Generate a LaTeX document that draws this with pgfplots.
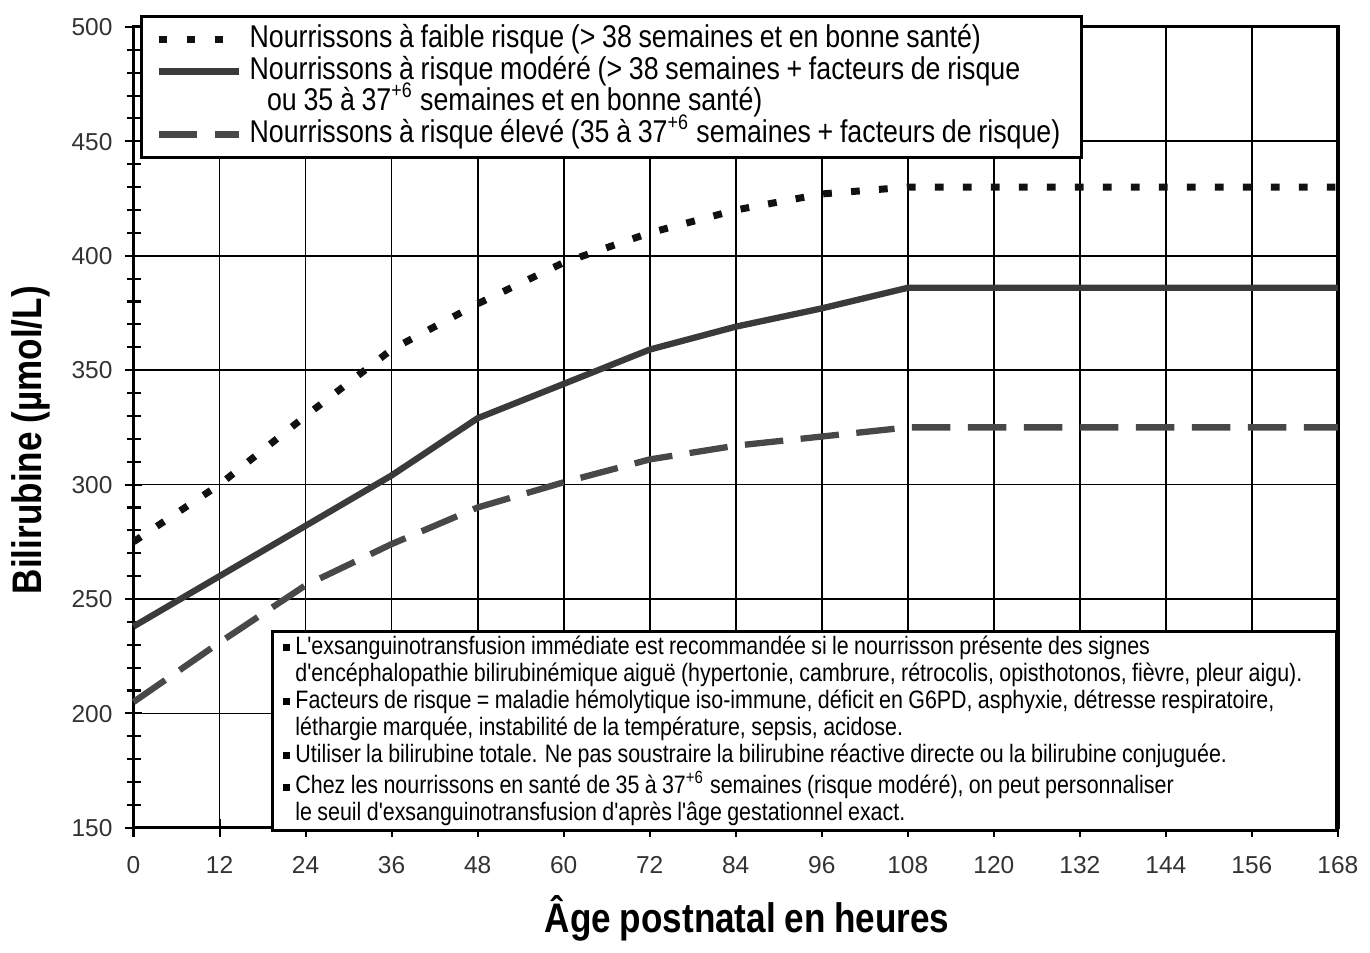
\documentclass[border=0pt]{standalone}
\usepackage{fontspec}
\setmainfont{Liberation Sans}
\newfontfamily\narrowfont[FakeStretch=0.85, WordSpace=0.9]{Liberation Sans}
\usepackage{pgfplots}
\pgfplotsset{compat=1.18}

\definecolor{lowc}{HTML}{111111}
\definecolor{modc}{HTML}{3A3A3A}
\definecolor{highc}{HTML}{484848}

\newcommand{\puce}{\raisebox{0.9pt}{\rule{2pt}{2pt}}\ }

\begin{document}
\begin{tikzpicture}
\begin{axis}[
  scale only axis, width=344.2pt, height=228.9pt,
  xmin=0, xmax=168, ymin=150, ymax=500,
  xtick={0,12,24,36,48,60,72,84,96,108,120,132,144,156,168},
  ytick={150,200,250,300,350,400,450,500},
  minor ytick={150,160,...,500},
  xtick pos=bottom, ytick pos=left,
  grid=major, grid style={black, line width=0.5pt},
  axis line style={line width=0.9pt},
  tick align=center, major tick length=5pt, minor tick length=4pt,
  every tick/.style={black, line width=0.6pt},
  tick label style={font=\fontsize{7}{8}\selectfont, text=black!80,
    text height=5pt, text depth=0pt},
  xticklabel style={yshift=-2pt},
  /pgf/number format/assume math mode=true,
  xlabel={Âge postnatal en heures}, ylabel={Bilirubine (µmol/L)},
  label style={font=\narrowfont\bfseries\fontsize{11.8}{13}\selectfont},
  xlabel style={at={(axis description cs:0.5095,-0.113)}, anchor=center},
  ylabel style={at={(axis description cs:-0.0852,0.484)}, anchor=center},
  clip=false,
  legend style={at={(rel axis cs:0.005,1.015)}, anchor=north west,
    draw=black, line width=0.9pt, fill=white, inner xsep=4pt, inner ysep=2.5pt,
    font=\narrowfont\fontsize{9}{10}\selectfont, row sep=0.6pt,
    nodes={inner ysep=0pt, text height=6.5pt, text depth=1.9pt}},
  legend cell align=left,
  legend image code/.code={\draw[#1] (0pt,0pt) -- (23pt,0pt);},
]

\addplot[lowc, line width=2pt, dash pattern=on 2.5pt off 5.5pt]
  coordinates {(0,275)(12,300)(24,330)(36,359)(48,379)(60,397)(72,410)(84,420)(96,427)(108,430)(168,430)};
\addlegendentry{Nourrissons à faible risque (> 38 semaines et en bonne santé)}

\addplot[modc, line width=1.8pt]
  coordinates {(0,238)(12,260)(24,282)(36,304)(48,329)(60,344)(72,359)(84,369)(96,377)(108,386)(168,386)};
\addlegendentry{Nourrissons à risque modéré (> 38 semaines + facteurs de risque}

\addlegendimage{empty legend}
\addlegendentry{\hspace{5pt}ou 35 à 37\textsuperscript{+6} semaines et en bonne santé)}

\addplot[highc, line width=1.8pt, dash pattern=on 11pt off 5pt]
  coordinates {(0,205)(12,231)(24,256)(36,274)(48,290)(60,301)(72,311)(84,317)(96,321)(108,325)(168,325)};
\addlegendentry{Nourrissons à risque élevé (35 à 37\textsuperscript{+6} semaines + facteurs de risque)}

\node[draw=black, line width=0.9pt, fill=white, anchor=south east, align=flush left,
  inner xsep=3pt, inner ysep=1.2pt, text width=298pt,
  font=\narrowfont\fontsize{7.2}{7.7}\selectfont] at (rel axis cs:1,-0.005) {%
\puce L'exsanguinotransfusion immédiate est recommandée si le nourrisson présente des signes\\
\phantom{\puce}d'encéphalopathie bilirubinémique aiguë (hypertonie, cambrure, rétrocolis, opisthotonos, fièvre, pleur aigu).\\
\puce Facteurs de risque = maladie hémolytique iso-immune, déficit en G6PD, asphyxie, détresse respiratoire,\\
\phantom{\puce}léthargie marquée, instabilité de la température, sepsis, acidose.\\
\puce Utiliser la bilirubine totale. Ne pas soustraire la bilirubine réactive directe ou la bilirubine conjuguée.\\
\puce Chez les nourrissons en santé de 35 à 37\textsuperscript{+6} semaines (risque modéré), on peut personnaliser\\
\phantom{\puce}le seuil d'exsanguinotransfusion d'après l'âge gestationnel exact.};

\path (rel axis cs:-0.1067,1.0336) rectangle (rel axis cs:1.0265,-0.1393);
\end{axis}
\end{tikzpicture}
\end{document}
